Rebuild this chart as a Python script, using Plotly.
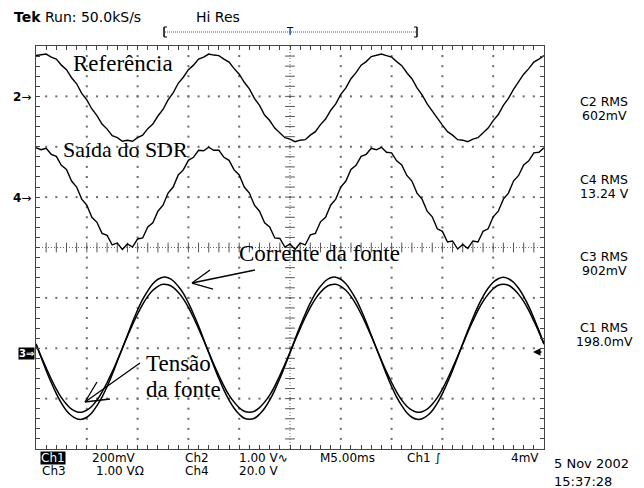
import numpy as np
import plotly.graph_objects as go

# ---------------- data (values in screen divisions, time in ms) ----------------
time_ms = np.linspace(-25, 25, 101)   # 5 ms/div, 10 div, one sample every 0.5 ms

ref_div = [3.81, 3.82, 3.84, 3.78, 3.74, 3.62, 3.53, 3.37, 3.25, 3.06,
           2.93, 2.75, 2.62, 2.45, 2.35, 2.22, 2.18, 2.11, 2.13, 2.11,
           2.18, 2.23, 2.36, 2.45, 2.61, 2.74, 2.93, 3.07, 3.26, 3.38,
           3.53, 3.62, 3.74, 3.78, 3.84, 3.82, 3.81, 3.74, 3.68, 3.55,
           3.44, 3.28, 3.15, 2.96, 2.82, 2.63, 2.52, 2.37, 2.28, 2.18,
           2.15, 2.10, 2.13, 2.14, 2.23, 2.30, 2.44, 2.55, 2.72, 2.85,
           3.04, 3.17, 3.35, 3.47, 3.62, 3.69, 3.79, 3.81, 3.84, 3.81,
           3.78, 3.69, 3.61, 3.47, 3.35, 3.17, 3.03, 2.85, 2.71, 2.55,
           2.43, 2.30, 2.23, 2.14, 2.13, 2.10, 2.15, 2.18, 2.28, 2.37,
           2.52, 2.64, 2.82, 2.96, 3.14, 3.28, 3.44, 3.55, 3.68, 3.74,
           3.81]

sdr_div = [1.98, 1.94, 1.97, 1.85, 1.81, 1.63, 1.55, 1.32, 1.20, 0.96,
           0.84, 0.60, 0.50, 0.28, 0.24, 0.05, 0.09, -0.04, 0.07, 0.01,
           0.17, 0.19, 0.41, 0.49, 0.72, 0.84, 1.08, 1.20, 1.44, 1.54,
           1.73, 1.79, 1.93, 1.92, 1.99, 1.93, 1.93, 1.79, 1.73, 1.54,
           1.44, 1.20, 1.08, 0.84, 0.72, 0.49, 0.41, 0.19, 0.18, 0.01,
           0.07, -0.04, 0.09, 0.05, 0.25, 0.28, 0.51, 0.60, 0.84, 0.96,
           1.20, 1.32, 1.55, 1.63, 1.81, 1.85, 1.97, 1.94, 1.99, 1.89,
           1.88, 1.72, 1.64, 1.43, 1.32, 1.08, 0.96, 0.72, 0.61, 0.37,
           0.32, 0.11, 0.13, -0.03, 0.06, -0.02, 0.13, 0.11, 0.32, 0.37,
           0.61, 0.72, 0.96, 1.08, 1.32, 1.43, 1.64, 1.72, 1.88, 1.89,
           1.98]

tensao_div = [-1.92, -2.16, -2.39, -2.61, -2.81, -2.98, -3.11, -3.21, -3.26, -3.27,
              -3.23, -3.15, -3.03, -2.87, -2.68, -2.47, -2.24, -2.00, -1.76, -1.53,
              -1.32, -1.13, -0.97, -0.85, -0.77, -0.73, -0.74, -0.79, -0.89, -1.02,
              -1.19, -1.39, -1.61, -1.84, -2.08, -2.32, -2.54, -2.75, -2.93, -3.07,
              -3.18, -3.25, -3.27, -3.25, -3.18, -3.07, -2.93, -2.75, -2.54, -2.32,
              -2.08, -1.84, -1.61, -1.39, -1.19, -1.02, -0.89, -0.79, -0.74, -0.73,
              -0.77, -0.85, -0.97, -1.13, -1.32, -1.53, -1.76, -2.00, -2.24, -2.47,
              -2.68, -2.87, -3.03, -3.15, -3.23, -3.27, -3.26, -3.21, -3.11, -2.98,
              -2.81, -2.61, -2.39, -2.16, -1.92, -1.68, -1.46, -1.25, -1.07, -0.93,
              -0.82, -0.75, -0.73, -0.75, -0.82, -0.93, -1.07, -1.25, -1.46, -1.68,
              -1.92]

corrente_div = [-1.91, -2.18, -2.44, -2.68, -2.90, -3.09, -3.24, -3.34, -3.40, -3.41,
                -3.37, -3.28, -3.14, -2.97, -2.76, -2.52, -2.26, -2.00, -1.74, -1.48,
                -1.24, -1.03, -0.86, -0.72, -0.63, -0.59, -0.60, -0.66, -0.77, -0.91,
                -1.10, -1.32, -1.56, -1.82, -2.09, -2.35, -2.60, -2.83, -3.03, -3.19,
                -3.31, -3.39, -3.41, -3.39, -3.31, -3.19, -3.03, -2.83, -2.60, -2.35,
                -2.09, -1.82, -1.56, -1.32, -1.10, -0.91, -0.77, -0.66, -0.60, -0.59,
                -0.63, -0.72, -0.86, -1.03, -1.24, -1.48, -1.74, -2.00, -2.26, -2.52,
                -2.76, -2.97, -3.14, -3.28, -3.37, -3.41, -3.40, -3.34, -3.24, -3.09,
                -2.90, -2.68, -2.44, -2.18, -1.91, -1.65, -1.40, -1.17, -0.97, -0.81,
                -0.69, -0.62, -0.59, -0.62, -0.69, -0.81, -0.97, -1.17, -1.40, -1.65,
                -1.91]

rms_names = ["C2 RMS", "C4 RMS", "C3 RMS", "C1 RMS"]
rms_values = ["602mV", "13.24 V", "902mV", "198.0mV"]

# ---------------- layout geometry ----------------
W, H = 644, 488
L, R, T, B = 36, 544, 46, 449          # graticule box in pixels


def px(x):
    return (x - L) / (R - L)


def py(y):
    return (B - y) / (B - T)


fig = go.Figure()

GRID = "#6a6a6a"
# dotted graticule
gx, gy = [], []
for xv in [-20, -15, -10, -5, 5, 10, 15, 20]:
    for yv in np.arange(-3.8, 3.81, 0.2):
        gx.append(xv); gy.append(yv)
for yv in [-3, -2, -1, 1, 2, 3]:
    for xv in np.arange(-24, 24.1, 1.0):
        gx.append(xv); gy.append(yv)
fig.add_trace(go.Scatter(x=gx, y=gy, mode="markers", hoverinfo="skip",
                         marker=dict(symbol="square", size=2, color=GRID, line=dict(width=0)),
                         showlegend=False))
# center cross
fig.add_trace(go.Scatter(x=[-25, 25], y=[0, 0], mode="lines", hoverinfo="skip",
                         line=dict(color=GRID, width=1, dash="1px,2px"), showlegend=False))
fig.add_trace(go.Scatter(x=[0, 0], y=[-4, 4], mode="lines", hoverinfo="skip",
                         line=dict(color=GRID, width=1, dash="1px,2px"), showlegend=False))
cx = list(np.arange(-24, 24.1, 1.0))
fig.add_trace(go.Scatter(x=cx, y=[0] * len(cx), mode="markers", hoverinfo="skip",
                         marker=dict(symbol="line-ns", size=7, line=dict(width=1, color="#555")),
                         showlegend=False))
cy = list(np.arange(-3.8, 3.81, 0.2))
fig.add_trace(go.Scatter(x=[0] * len(cy), y=cy, mode="markers", hoverinfo="skip",
                         marker=dict(symbol="line-ew", size=7, line=dict(width=1, color="#555")),
                         showlegend=False))

# waveforms
fig.add_trace(go.Scatter(x=time_ms, y=ref_div, mode="lines", name="Referência",
                         line=dict(color="black", width=1.4), showlegend=False))
fig.add_trace(go.Scatter(x=time_ms, y=sdr_div, mode="lines", name="Saída do SDR",
                         line=dict(color="black", width=1.4), showlegend=False))
fig.add_trace(go.Scatter(x=time_ms, y=corrente_div, mode="lines", name="Corrente da fonte",
                         line=dict(color="black", width=1.5, shape="spline"), showlegend=False))
fig.add_trace(go.Scatter(x=time_ms, y=tensao_div, mode="lines", name="Tensão da fonte",
                         line=dict(color="black", width=1.5, shape="spline"), showlegend=False))

axis_common = dict(showgrid=False, zeroline=False, showline=True, mirror="allticks",
                   ticks="inside", ticklen=4, tickcolor="#444", linecolor="#444",
                   linewidth=1.2, showticklabels=False, fixedrange=True)
fig.update_xaxes(range=[-25, 25], tick0=0, dtick=1, **axis_common)
fig.update_yaxes(range=[-4, 4], tick0=0, dtick=0.2, **axis_common)

TEK = "DejaVu Sans"
SERIF = "Liberation Serif"
ann = []


def text(x, y, s, size=13, family=TEK, anchor="left", color="black", bg=None, h=None):
    d = dict(x=px(x), y=py(y), xref="paper", yref="paper", text=s, showarrow=False,
             xanchor=anchor, yanchor="middle", font=dict(family=family, size=size, color=color))
    if bg:
        d["bgcolor"] = bg
        d["borderpad"] = 0
    if h:
        d["height"] = h
    ann.append(d)


# top status line
text(12, 17, "<b>Tek</b> Run: 50.0kS/s", 14)
text(194, 17, "Hi Res", 14)
text(290, 32, "T", 10, anchor="center")

# bottom status lines (tight rows, as on the scope screen)
text(40, 458, "Ch1", 12, color="white", bg="black", h=12)
text(90, 458, "200mV", 12, h=12)
text(183, 458, "Ch2", 12, h=12)
text(237, 458, "1.00 V∿", 12, h=12)
text(318, 458, "M5.00ms", 12, h=12)
text(405, 458, "Ch1 ∫", 12, h=12)
text(541, 458, "4mV", 12, anchor="right", h=12)
text(40, 471, "Ch3", 12, h=12)
text(94, 471, "1.00 VΩ", 12, h=12)
text(183, 471, "Ch4", 12, h=12)
text(237, 471, "20.0 V", 12, h=12)
text(552, 463, "5 Nov 2002", 13, h=14)
text(552, 481, "15:37:28", 13, h=14)

# RMS readouts
rms_y = [101, 179, 256, 327]
for nm, val, yy in zip(rms_names, rms_values, rms_y):
    text(604, yy, nm, 12.5, anchor="center", h=12)
    text(604, yy + 14, val, 12.5, anchor="center", h=12)

# channel markers
text(33, 97, "<b>2</b>→", 12, anchor="right")
text(33, 198, "<b>4</b>→", 12, anchor="right")
text(35, 353, "<b>3⇒</b>", 10, anchor="right", color="white", bg="black")

# trace labels
text(71, 64, "Referência", 23, SERIF)
text(61, 149, "Saída do SDR", 22, SERIF)
text(237, 253, "Corrente da fonte", 23, SERIF)
text(144, 363, "Tensão", 23, SERIF)
text(144, 389, "da fonte", 23, SERIF)

# ground arrow at right edge (Ch3)
ann.append(dict(x=px(533), y=py(352), xref="paper", yref="paper", text="", showarrow=True,
                arrowhead=2, arrowsize=1, arrowwidth=1.5, arrowcolor="black", ax=10, ay=0))

fig.update_layout(annotations=ann)

shapes = []


def line(x0, y0, x1, y1, w=1.3, color="black", dash=None):
    d = dict(type="line", xref="paper", yref="paper", x0=px(x0), y0=py(y0), x1=px(x1), y1=py(y1),
             line=dict(color=color, width=w))
    if dash:
        d["line"]["dash"] = dash
    shapes.append(d)


# trigger bracket
line(165, 32, 416, 32, 1, "#555", "1px,1px")
line(164, 27, 164, 37, 1.5)
line(164, 27, 167, 27, 1)
line(164, 37, 167, 37, 1)
line(417, 27, 417, 37, 1.5)
line(414, 27, 417, 27, 1)
line(414, 37, 417, 37, 1)

# label arrows
line(255, 270, 192, 283)
line(192, 283, 213, 289)
line(192, 283, 210, 270)
line(140, 363, 85, 402)
line(85, 402, 97, 382)
line(85, 402, 110, 399)

fig.update_layout(shapes=shapes, width=W, height=H, autosize=False,
                  margin=dict(l=L, r=W - R, t=T, b=H - B, pad=0),
                  paper_bgcolor="white", plot_bgcolor="white", showlegend=False)

fig.write_html("out.html", config={"displayModeBar": False})
